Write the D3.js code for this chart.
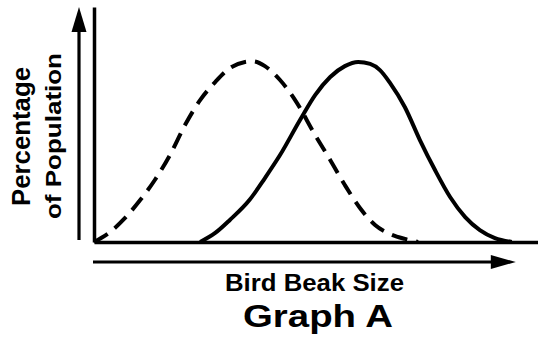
<!DOCTYPE html>
<html>
<head>
<meta charset="utf-8">
<script src="https://cdn.jsdelivr.net/npm/d3@7"></script>
<style>
  html, body { margin: 0; padding: 0; background: #fff; }
  svg { display: block; font-family: "Liberation Sans", Arial, sans-serif; font-weight: bold; }
</style>
</head>
<body>
<div id="chart"></div>
<script>
// Graph A: two beak size distributions (dashed = before, solid = after)

// beak size (0-100) and percentage of population (0-100)
var dashedSize = [0, 3.6, 7, 10.4, 13.7, 17.1, 20.5, 23.9, 27.3, 30.6, 34, 35.8, 38.5, 41.9, 45.3, 49.8, 53.2, 56.5, 59.9, 63.3, 66.7, 70, 73];
var dashedPct  = [0, 5.5, 13.3, 23.2, 34.3, 48.1, 64.7, 78.5, 88.5, 96.2, 99.6, 100, 97.3, 89.6, 78.5, 59.2, 45.4, 31.5, 18.8, 9.4, 4.4, 1.7, 0];

var solidSize = [23.9, 27.3, 30.6, 35.1, 38.5, 41.9, 46.4, 49.8, 53.2, 56.5, 59.5, 62.2, 64.4, 66.7, 70, 73.4, 76.8, 80.2, 83.6, 86.9, 90.3, 94.1];
var solidPct  = [0, 5, 12.2, 23.5, 35.4, 48.1, 67.5, 81.3, 91.3, 97.3, 99.6, 98.5, 95.1, 87.9, 74.7, 56.4, 39.8, 24.9, 13.8, 6.6, 2.2, 0];

var yLabels = ["Percentage", "of Population"];
var xLabel = "Bird Beak Size";
var title = "Graph A";

var width = 538, height = 352;

var svg = d3.select("#chart").append("svg")
  .attr("width", width)
  .attr("height", height);

// Scales
var x = d3.scaleLinear().domain([0, 100]).range([94, 538]);
var y = d3.scaleLinear().domain([0, 130]).range([242, 7]);

// Axes (no ticks, just the lines)
svg.append("g")
  .attr("transform", "translate(" + x(0) + ",0)")
  .call(d3.axisLeft(y).tickValues([]).tickSizeOuter(0))
  .select(".domain").attr("stroke", "#000").attr("stroke-width", 3.5);

svg.append("g")
  .attr("transform", "translate(0," + y(0) + ")")
  .call(d3.axisBottom(x).tickValues([]).tickSizeOuter(0))
  .select(".domain").attr("stroke", "#000").attr("stroke-width", 3.5);

// Curves
var line = d3.line()
  .x(function(d){ return x(d[0]); })
  .y(function(d){ return y(d[1]); })
  .curve(d3.curveMonotoneX);

svg.append("path")
  .datum(d3.zip(dashedSize, dashedPct))
  .attr("d", line)
  .attr("fill", "none")
  .attr("stroke", "#000")
  .attr("stroke-width", 4)
  .attr("stroke-dasharray", "16,9");

svg.append("path")
  .datum(d3.zip(solidSize, solidPct))
  .attr("d", line)
  .attr("fill", "none")
  .attr("stroke", "#000")
  .attr("stroke-width", 4);

// Arrows beside the axes
var ax = x(0) - 15;
svg.append("line")
  .attr("x1", ax).attr("x2", ax)
  .attr("y1", y(0) - 2).attr("y2", 28)
  .attr("stroke", "#000").attr("stroke-width", 3.2);
svg.append("path")
  .attr("d", "M" + ax + ",7L" + (ax - 7.5) + ",32L" + (ax + 7.5) + ",32Z")
  .attr("fill", "#000");

var ay = y(0) + 20;
var tip = x(95);
svg.append("line")
  .attr("x1", x(0) - 1).attr("x2", tip - 20)
  .attr("y1", ay).attr("y2", ay)
  .attr("stroke", "#000").attr("stroke-width", 3);
svg.append("path")
  .attr("d", "M" + tip + "," + ay + "L" + (tip - 25) + "," + (ay - 7) + "L" + (tip - 25) + "," + (ay + 7) + "Z")
  .attr("fill", "#000");

// Labels
svg.append("text")
  .attr("transform", "translate(30,136.5) rotate(-90)")
  .attr("text-anchor", "middle")
  .attr("font-size", 25)
  .attr("textLength", 139)
  .attr("lengthAdjust", "spacingAndGlyphs")
  .text(yLabels[0]);

svg.append("text")
  .attr("transform", "translate(61,136) rotate(-90)")
  .attr("text-anchor", "middle")
  .attr("font-size", 22)
  .attr("textLength", 166)
  .attr("lengthAdjust", "spacingAndGlyphs")
  .text(yLabels[1]);

svg.append("text")
  .attr("x", 314.5).attr("y", 291)
  .attr("text-anchor", "middle")
  .attr("font-size", 23)
  .attr("textLength", 179)
  .attr("lengthAdjust", "spacingAndGlyphs")
  .text(xLabel);

svg.append("text")
  .attr("x", 318).attr("y", 327)
  .attr("text-anchor", "middle")
  .attr("font-size", 32)
  .attr("textLength", 150)
  .attr("lengthAdjust", "spacingAndGlyphs")
  .text(title);
</script>
</body>
</html>
